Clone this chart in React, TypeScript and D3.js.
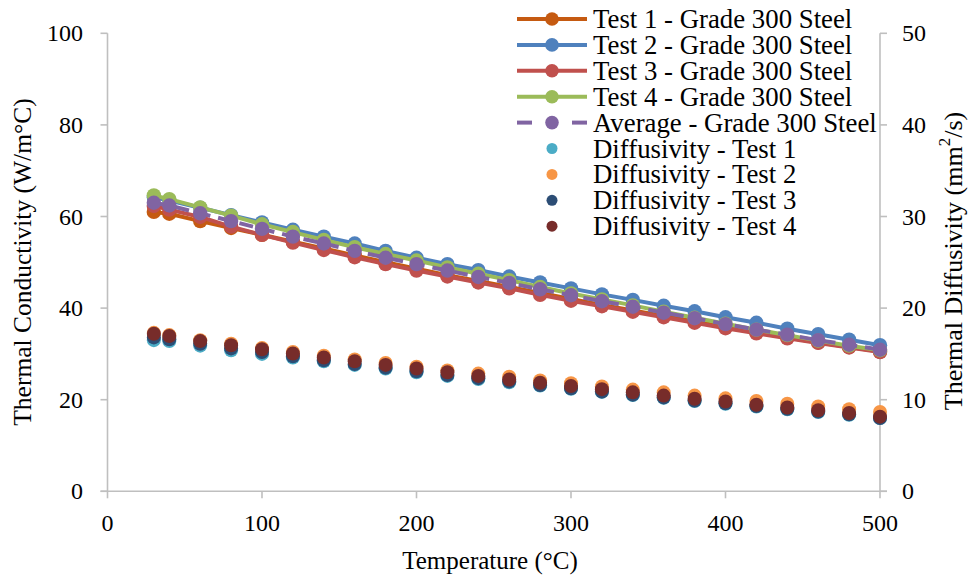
import React from "react";
import * as d3 from "d3";

const temps = [30, 40, 60, 80, 100, 120, 140, 160, 180, 200, 220, 240, 260, 280, 300, 320, 340, 360, 380, 400, 420, 440, 460, 480, 500];

const test1K = [61.0, 60.6, 59.0, 57.5, 56.0, 54.5, 53.0, 51.5, 50.0, 48.6, 47.2, 45.9, 44.6, 43.3, 42.0, 40.7, 39.5, 38.3, 37.1, 35.9, 34.7, 33.6, 32.5, 31.5, 30.5];
const test2K = [64.2, 63.5, 61.9, 60.3, 58.7, 57.1, 55.6, 54.1, 52.5, 51.0, 49.6, 48.3, 46.9, 45.6, 44.3, 43.0, 41.8, 40.5, 39.3, 38.0, 36.8, 35.5, 34.3, 33.1, 31.9];
const test3K = [62.3, 61.5, 59.9, 57.8, 56.0, 54.3, 52.7, 51.1, 49.6, 48.2, 46.9, 45.6, 44.3, 42.9, 41.6, 40.4, 39.2, 38.0, 36.8, 35.6, 34.5, 33.4, 32.4, 31.4, 30.4];
const test4K = [64.6, 63.8, 62.0, 60.2, 58.3, 56.6, 54.9, 53.3, 51.8, 50.4, 48.9, 47.5, 46.1, 44.6, 43.2, 41.9, 40.6, 39.2, 37.9, 36.6, 35.3, 34.1, 32.9, 31.8, 30.8];
const averageK = [63.0, 62.4, 60.7, 59.0, 57.3, 55.6, 54.1, 52.5, 51.0, 49.6, 48.2, 46.8, 45.5, 44.1, 42.8, 41.5, 40.3, 39.0, 37.8, 36.5, 35.3, 34.2, 33.0, 32.0, 30.9];

const diff1 = [16.5, 16.4, 15.9, 15.4, 15.0, 14.6, 14.2, 13.8, 13.4, 13.0, 12.6, 12.25, 11.9, 11.55, 11.2, 10.85, 10.5, 10.2, 9.85, 9.55, 9.25, 8.95, 8.65, 8.35, 8.0];
const diff2 = [17.3, 17.05, 16.5, 16.1, 15.65, 15.2, 14.8, 14.4, 14.0, 13.6, 13.2, 12.85, 12.5, 12.1, 11.8, 11.45, 11.1, 10.8, 10.45, 10.15, 9.85, 9.55, 9.25, 8.95, 8.65];
const diff3 = [16.8, 16.6, 16.1, 15.6, 15.2, 14.75, 14.3, 13.9, 13.5, 13.1, 12.7, 12.35, 12.0, 11.6, 11.25, 10.9, 10.55, 10.25, 9.9, 9.6, 9.3, 9.0, 8.7, 8.4, 8.0];
const diff4 = [17.2, 16.95, 16.4, 15.95, 15.5, 15.05, 14.6, 14.2, 13.8, 13.4, 13.0, 12.6, 12.2, 11.85, 11.5, 11.15, 10.8, 10.45, 10.1, 9.8, 9.45, 9.15, 8.85, 8.55, 8.15];

const xTicks = [0, 100, 200, 300, 400, 500];
const yLeftTicks = [0, 20, 40, 60, 80, 100];
const yRightTicks = [0, 10, 20, 30, 40, 50];

const lineSeries = [
  { name: "Test 1 - Grade 300 Steel", values: test1K, color: "#C55A11", dashed: false },
  { name: "Test 2 - Grade 300 Steel", values: test2K, color: "#4F81BD", dashed: false },
  { name: "Test 3 - Grade 300 Steel", values: test3K, color: "#C0504D", dashed: false },
  { name: "Test 4 - Grade 300 Steel", values: test4K, color: "#9BBB59", dashed: false },
  { name: "Average - Grade 300 Steel", values: averageK, color: "#8064A2", dashed: true },
];
const dotSeries = [
  { name: "Diffusivity - Test 1", values: diff1, color: "#4BACC6" },
  { name: "Diffusivity - Test 2", values: diff2, color: "#F79646" },
  { name: "Diffusivity - Test 3", values: diff3, color: "#2C4D75" },
  { name: "Diffusivity - Test 4", values: diff4, color: "#772C2A" },
];

const FONT = "'Liberation Serif', 'Times New Roman', 'DejaVu Serif', serif";
const AXIS = "#BFBFBF";

export default function App() {
  const W = 971, H = 583;
  const x = d3.scaleLinear().domain([0, 500]).range([107.5, 880]);
  const yL = d3.scaleLinear().domain([0, 100]).range([491.3, 33.3]);
  const yR = d3.scaleLinear().domain([0, 50]).range([491.3, 33.3]);

  const lineGen = (vals: number[]) =>
    d3.line<number>().x((_, i) => x(temps[i])).y((v) => yL(v))(vals) || "";

  const legendRowY = (i: number) => 19 + i * 25.9;

  return (
    <svg width={W} height={H} style={{ position: "absolute", left: 0, top: 0, background: "#fff", fontFamily: FONT }}>
      <rect width={W} height={H} fill="#fff" />
      {/* axes */}
      <g stroke={AXIS} strokeWidth={1.6} fill="none">
        <line x1={x(0)} x2={x(0)} y1={yL(100)} y2={yL(0)} />
        <line x1={x(500)} x2={x(500)} y1={yR(50)} y2={yR(0)} />
        <line x1={x(0) - 7} x2={x(500) + 7} y1={yL(0)} y2={yL(0)} />
        {yLeftTicks.map((t) => (
          <line key={"lt" + t} x1={x(0) - 7} x2={x(0)} y1={yL(t)} y2={yL(t)} />
        ))}
        {yRightTicks.map((t) => (
          <line key={"rt" + t} x1={x(500)} x2={x(500) + 7} y1={yR(t)} y2={yR(t)} />
        ))}
        {xTicks.map((t) => (
          <line key={"xt" + t} x1={x(t)} x2={x(t)} y1={yL(0)} y2={yL(0) + 7} />
        ))}
      </g>
      {/* tick labels */}
      <g fontSize={24} fill="#000">
        {yLeftTicks.map((t) => (
          <text key={"ll" + t} x={83} y={yL(t)} textAnchor="end" dominantBaseline="central">{t}</text>
        ))}
        {yRightTicks.map((t) => (
          <text key={"rl" + t} x={902} y={yR(t)} textAnchor="start" dominantBaseline="central">{t}</text>
        ))}
        {xTicks.map((t) => (
          <text key={"xl" + t} x={x(t)} y={523} textAnchor="middle" dominantBaseline="central">{t}</text>
        ))}
      </g>
      {/* axis titles */}
      <text x={490} y={560} fontSize={25} textAnchor="middle" dominantBaseline="central">Temperature (°C)</text>
      <text transform={`translate(22,262) rotate(-90)`} fontSize={25.5} textAnchor="middle" dominantBaseline="central">Thermal Conductivity (W/m°C)</text>
      <text transform={`translate(953,261) rotate(-90)`} fontSize={26} textAnchor="middle" dominantBaseline="central">
        Thermal Diffusivity (mm<tspan dy={-9} fontSize={17}>2</tspan><tspan dy={9}>/s)</tspan>
      </text>
      {/* lines */}
      {lineSeries.map((s) => (
        <g key={s.name}>
          <path d={lineGen(s.values)} fill="none" stroke={s.color} strokeWidth={4} strokeDasharray={s.dashed ? "14 8" : undefined} strokeLinejoin="round" />
          {s.values.map((v, i) => (
            <circle key={i} cx={x(temps[i])} cy={yL(v)} r={7.2} fill={s.color} />
          ))}
        </g>
      ))}
      {/* diffusivity points */}
      {dotSeries.map((s) => (
        <g key={s.name}>
          {s.values.map((v, i) => (
            <circle key={i} cx={x(temps[i])} cy={yR(v)} r={7} fill={s.color} />
          ))}
        </g>
      ))}
      {/* legend */}
      <g fontSize={26.8}>
        {lineSeries.map((s, i) => (
          <g key={"lg" + s.name}>
            {s.dashed ? (
              <>
                <line x1={517} x2={532} y1={legendRowY(i)} y2={legendRowY(i)} stroke={s.color} strokeWidth={4} />
                <line x1={572} x2={587} y1={legendRowY(i)} y2={legendRowY(i)} stroke={s.color} strokeWidth={4} />
              </>
            ) : (
              <line x1={517} x2={587} y1={legendRowY(i)} y2={legendRowY(i)} stroke={s.color} strokeWidth={4} />
            )}
            <circle cx={552} cy={legendRowY(i)} r={6.8} fill={s.color} />
            <text x={593} y={legendRowY(i)} dominantBaseline="central">{s.name}</text>
          </g>
        ))}
        {dotSeries.map((s, j) => {
          const i = j + lineSeries.length;
          return (
            <g key={"lg" + s.name}>
              <circle cx={552} cy={legendRowY(i)} r={5.5} fill={s.color} />
              <text x={593} y={legendRowY(i)} dominantBaseline="central">{s.name}</text>
            </g>
          );
        })}
      </g>
    </svg>
  );
}
